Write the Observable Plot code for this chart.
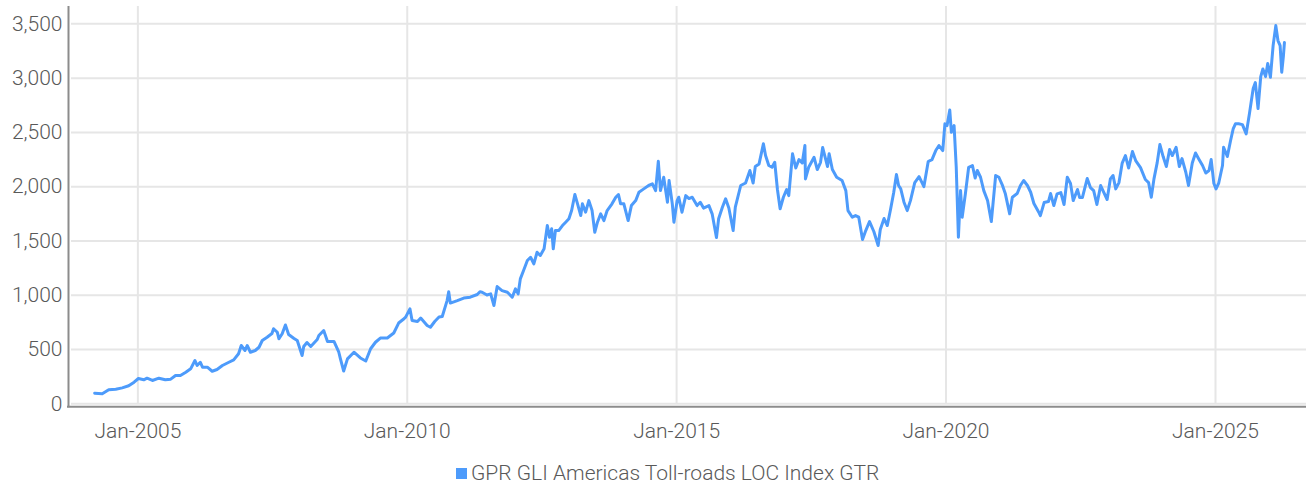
<!DOCTYPE html>
<html><head><meta charset="utf-8">
<script src="https://cdn.jsdelivr.net/npm/d3@7"></script>
<script src="https://cdn.jsdelivr.net/npm/@observablehq/plot@0.6"></script>
<style>
body{margin:0;background:#fff;font-family:Roboto,sans-serif;}
#chart{position:relative;width:1306px;height:488px;}
.legend{position:absolute;left:456px;top:461px;display:flex;align-items:center;font-family:Roboto,sans-serif;font-weight:300;font-size:21px;color:#595959;white-space:nowrap;}
.legend .sw{width:11px;height:11px;margin-right:4px;}
</style></head><body>
<div id="chart"></div>
<script>
const seriesName = "GPR GLI Americas Toll-roads LOC Index GTR";
const lineColor = "#4d9bfb";
// decimal years
const years = [
2004.20,2004.34,2004.46,2004.59,2004.71,2004.83,2004.93,2005.01,2005.11,2005.17,
2005.27,2005.39,2005.51,2005.61,2005.70,2005.79,2005.89,2005.98,2006.06,2006.10,
2006.16,2006.20,2006.29,2006.38,2006.47,2006.57,2006.69,2006.78,2006.87,2006.92,
2006.99,2007.03,2007.09,2007.18,2007.25,2007.31,2007.40,2007.49,2007.52,2007.59,
2007.62,2007.68,2007.74,2007.80,2007.90,2007.96,2008.05,2008.08,2008.14,2008.21,
2008.33,2008.36,2008.45,2008.52,2008.64,2008.73,2008.76,2008.82,2008.89,2009.01,
2009.13,2009.23,2009.32,2009.41,2009.50,2009.63,2009.75,2009.84,2009.94,2009.97,
2010.05,2010.09,2010.19,2010.25,2010.37,2010.43,2010.51,2010.59,2010.65,2010.74,
2010.77,2010.80,2010.93,2011.05,2011.17,2011.30,2011.35,2011.39,2011.48,2011.55,
2011.61,2011.67,2011.76,2011.86,2011.95,2012.01,2012.06,2012.10,2012.16,2012.23,
2012.29,2012.35,2012.41,2012.47,2012.54,2012.60,2012.64,2012.68,2012.71,2012.75,
2012.81,2012.88,2012.94,2013.00,2013.05,2013.11,2013.16,2013.22,2013.25,2013.31,
2013.37,2013.43,2013.48,2013.53,2013.59,2013.65,2013.71,2013.80,2013.87,2013.92,
2013.96,2014.02,2014.10,2014.16,2014.24,2014.30,2014.39,2014.48,2014.55,2014.61,
2014.66,2014.70,2014.76,2014.83,2014.86,2014.92,2014.95,2015.01,2015.04,2015.10,
2015.17,2015.23,2015.29,2015.38,2015.44,2015.50,2015.60,2015.66,2015.74,2015.78,
2015.85,2015.91,2015.97,2016.05,2016.09,2016.19,2016.28,2016.36,2016.42,2016.46,
2016.53,2016.61,2016.65,2016.71,2016.77,2016.82,2016.87,2016.92,2016.98,2017.04,
2017.08,2017.15,2017.21,2017.27,2017.33,2017.38,2017.39,2017.45,2017.55,2017.61,
2017.67,2017.71,2017.80,2017.83,2017.89,2017.97,2018.07,2018.14,2018.18,2018.26,
2018.32,2018.38,2018.45,2018.51,2018.58,2018.66,2018.74,2018.78,2018.85,2018.91,
2018.97,2019.03,2019.08,2019.12,2019.16,2019.22,2019.28,2019.34,2019.42,2019.50,
2019.59,2019.67,2019.74,2019.81,2019.87,2019.94,2019.98,2020.02,2020.07,2020.10,
2020.15,2020.19,2020.23,2020.27,2020.30,2020.36,2020.42,2020.49,2020.54,2020.58,
2020.64,2020.70,2020.77,2020.84,2020.92,2020.98,2021.04,2021.10,2021.18,2021.23,
2021.32,2021.38,2021.44,2021.51,2021.57,2021.63,2021.72,2021.75,2021.82,2021.90,
2021.94,2022.00,2022.06,2022.13,2022.19,2022.25,2022.31,2022.36,2022.44,2022.48,
2022.53,2022.62,2022.68,2022.74,2022.80,2022.87,2022.93,2022.99,2023.05,2023.10,
2023.15,2023.21,2023.27,2023.33,2023.39,2023.46,2023.52,2023.61,2023.70,2023.76,
2023.81,2023.86,2023.92,2023.97,2024.03,2024.09,2024.15,2024.20,2024.27,2024.33,
2024.38,2024.45,2024.50,2024.57,2024.63,2024.69,2024.76,2024.82,2024.88,2024.92,
2024.97,2025.01,2025.06,2025.13,2025.15,2025.22,2025.28,2025.33,2025.37,2025.43,
2025.50,2025.57,2025.63,2025.70,2025.74,2025.79,2025.84,2025.88,2025.93,2025.97,
2026.02,2026.07,2026.12,2026.16,2026.20,2026.23,2026.26,2026.28
];
// index values
const values = [
98,92,129,134,147,166,199,233,221,236,
215,236,221,227,261,261,291,322,399,353,
383,337,337,300,316,353,383,405,461,537,
491,537,475,491,521,583,613,647,691,659,
599,645,726,638,601,583,445,528,565,528,
592,629,675,574,574,475,414,302,414,475,
422,394,507,567,606,606,652,744,783,798,
875,767,758,790,721,705,758,799,804,951,
1032,928,951,974,982,1007,1032,1028,1002,1013,
905,1080,1043,1028,982,1059,1013,1151,1228,1320,
1350,1289,1396,1366,1428,1642,1534,1612,1428,1596,
1596,1642,1673,1704,1780,1928,1842,1734,1842,1765,
1872,1780,1580,1673,1750,1688,1780,1842,1903,1928,
1842,1842,1688,1826,1872,1949,1980,2011,2026,1964,
2234,1964,2087,1857,2057,1842,1673,1872,1903,1765,
1918,1891,1903,1826,1857,1803,1826,1750,1532,1704,
1811,1888,1803,1596,1811,2011,2034,2149,2034,2186,
2210,2395,2287,2195,2179,2225,1974,1796,1903,1974,
1918,2303,2172,2250,2218,2379,2072,2179,2271,2158,
2225,2361,2186,2303,2158,2087,2057,1964,1780,1719,
1734,1719,1513,1596,1679,1587,1458,1605,1707,1642,
1790,1949,2112,2011,1980,1857,1780,1872,2038,2093,
2001,2232,2250,2333,2379,2333,2579,2563,2706,2501,
2563,2179,1534,1964,1719,1937,2179,2195,2080,2149,
2087,1964,1872,1679,2103,2087,2020,1934,1750,1903,
1937,2011,2057,2011,1949,1845,1765,1734,1854,1863,
1937,1826,1934,1946,1836,2087,2029,1872,1974,1900,
1900,2075,1992,1964,1836,2011,1946,1882,2072,2103,
1980,2038,2218,2287,2172,2324,2241,2176,2066,2038,
1903,2072,2222,2388,2278,2186,2342,2287,2363,2186,
2259,2133,2011,2218,2310,2256,2195,2126,2149,2250,
2029,1980,2034,2195,2363,2278,2425,2536,2579,2579,
2572,2487,2671,2904,2959,2720,3014,3085,3014,3134,
3008,3300,3484,3346,3300,3054,3199,3328
];
const yTicks = [0,500,1000,1500,2000,2500,3000,3500];
const xTickYears = [2005,2010,2015,2020,2025];
const xDomainYears = [2003.77, 2026.69];
const yDomain = [0, 3660];

function toDate(y){
  const yr = Math.floor(y);
  const s = Date.UTC(yr,0,1), e = Date.UTC(yr+1,0,1);
  return new Date(s + (y - yr) * (e - s));
}
const data = years.map((y,i)=>({date: toDate(y), value: values[i]}));
const xDomain = xDomainYears.map(toDate);
const xTicks = xTickYears.map(toDate);

const H = 450;
const plot = Plot.plot({
  width: 1306, height: H,
  marginLeft: 71, marginRight: 0, marginTop: 6, marginBottom: H - 403.3,
  x: {type: "utc", domain: xDomain, label: null},
  y: {domain: yDomain, label: null},
  style: {fontFamily: "Roboto, sans-serif", fontSize: "21px", fontWeight: 300, color: "#595959", background: "#fff", overflow: "visible"},
  marks: [
    Plot.gridY(yTicks, {stroke: "#e6e6e6", strokeOpacity: 1, strokeWidth: 2}),
    Plot.gridX(xTicks, {stroke: "#e6e6e6", strokeOpacity: 1, strokeWidth: 2}),
    Plot.axisY(yTicks, {tickSize: 0, tickPadding: 9, tickFormat: d3.format(","), fill: "#595959", label: null}),
    Plot.axisX(xTicks, {tickSize: 0, tickPadding: 19, tickFormat: d3.utcFormat("%b-%Y"), fill: "#595959", label: null}),
    Plot.ruleX([xDomain[0]], {dx: -3, stroke: "#8c8c8c", strokeWidth: 2, insetBottom: -4}),
    Plot.ruleY([0], {dy: 3, stroke: "#8c8c8c", strokeWidth: 2, insetLeft: -4}),
    Plot.line(data, {x: "date", y: "value", stroke: lineColor, strokeWidth: 3, strokeLinejoin: "round"})
  ]
});
const chart = document.getElementById("chart");
chart.appendChild(plot);
const lg = document.createElement("div");
lg.className = "legend";
const sw = document.createElement("span");
sw.className = "sw"; sw.style.background = lineColor;
const tx = document.createElement("span");
tx.textContent = seriesName;
lg.appendChild(sw); lg.appendChild(tx);
chart.appendChild(lg);
</script>
</body></html>
